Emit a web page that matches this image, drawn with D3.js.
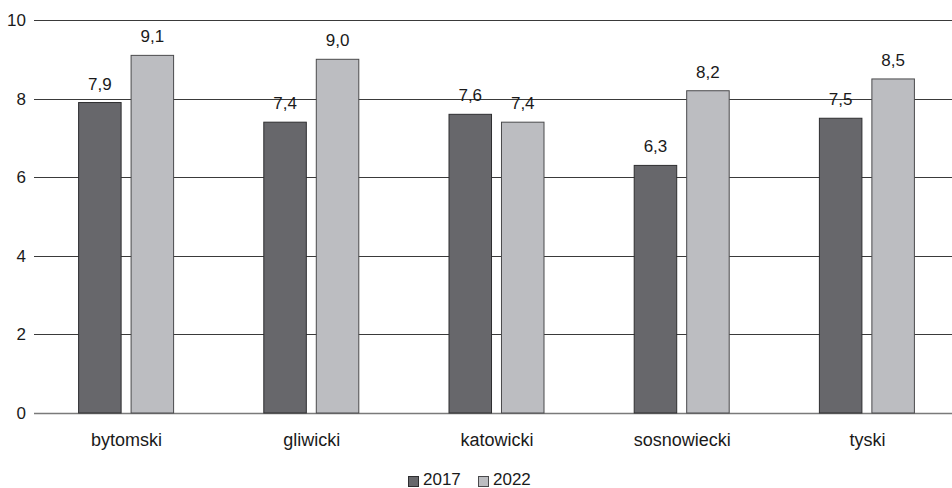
<!DOCTYPE html>
<html>
<head>
<meta charset="utf-8">
<script src="https://cdn.jsdelivr.net/npm/d3@7"></script>
<style>
  html, body { margin: 0; padding: 0; background: #fff; }
  svg { display: block; font-family: "Liberation Sans", Arial, sans-serif; }
</style>
</head>
<body>
<svg id="chart" width="952" height="488"></svg>
<script>
// Powiaty and their values for two years
const categories = ["bytomski", "gliwicki", "katowicki", "sosnowiecki", "tyski"];
const years = ["2017", "2022"];
const values2017 = [7.9, 7.4, 7.6, 6.3, 7.5];
const values2022 = [9.1, 9.0, 7.4, 8.2, 8.5];
const yTicks = [0, 2, 4, 6, 8, 10];

const seriesValues = [values2017, values2022];
const fills = ["#67676b", "#bcbdc1"];
const strokes = ["#2e2e30", "#4a4a4c"];

const svg = d3.select("#chart");
const W = 952, H = 488;
const margin = { left: 34, right: -8, top: 20, bottom: 75 };

const x = d3.scaleBand()
  .domain(categories)
  .range([margin.left, W - margin.right])
  .paddingInner(0)
  .paddingOuter(0);

const y = d3.scaleLinear()
  .domain([0, 10])
  .range([H - margin.bottom, margin.top]);

const sub = d3.scaleBand()
  .domain(years)
  .range([-48, 47])
  .paddingInner(0.19)
  .paddingOuter(0);

// Gridlines and value axis
const yAxis = d3.axisLeft(y)
  .tickValues(yTicks)
  .tickSize(0)
  .tickPadding(8)
  .tickFormat(d3.format("d"));

const gy = svg.append("g")
  .attr("transform", `translate(${margin.left},0)`)
  .call(yAxis);
gy.select(".domain").remove();
gy.selectAll("text")
  .attr("font-size", 17)
  .attr("fill", "#1a1a1a")
  .attr("font-family", "Liberation Sans, Arial, sans-serif");

svg.append("g")
  .selectAll("line")
  .data(yTicks)
  .join("line")
  .attr("x1", margin.left)
  .attr("x2", W)
  .attr("y1", d => Math.round(y(d)) + 0.5)
  .attr("y2", d => Math.round(y(d)) + 0.5)
  .attr("stroke", d => d === 0 ? "#7a7a7a" : "#3a3a3a")
  .attr("stroke-width", d => d === 0 ? 1.5 : 1);

// Bars
const groups = svg.append("g")
  .selectAll("g")
  .data(categories)
  .join("g")
  .attr("transform", d => `translate(${x(d) + x.bandwidth() / 2},0)`);

years.forEach((yr, si) => {
  groups.append("rect")
    .attr("x", sub(yr))
    .attr("width", sub.bandwidth())
    .attr("y", (d, i) => y(seriesValues[si][i]))
    .attr("height", (d, i) => y(0) - y(seriesValues[si][i]))
    .attr("fill", fills[si])
    .attr("stroke", strokes[si])
    .attr("stroke-width", 1);

  groups.append("text")
    .attr("x", sub(yr) + sub.bandwidth() / 2)
    .attr("y", (d, i) => y(seriesValues[si][i]) - 13)
    .attr("text-anchor", "middle")
    .attr("font-size", 17)
    .attr("fill", "#1a1a1a")
    .text((d, i) => d3.format(".1f")(seriesValues[si][i]).replace(".", ","));
});

// Category axis labels
const xAxis = d3.axisBottom(x).tickSize(0).tickPadding(20);
const gx = svg.append("g")
  .attr("transform", `translate(0,${y(0)})`)
  .call(xAxis);
gx.select(".domain").remove();
gx.selectAll("text")
  .attr("font-size", 18)
  .attr("fill", "#1a1a1a")
  .attr("font-family", "Liberation Sans, Arial, sans-serif");

// Legend
const legend = svg.append("g").attr("transform", "translate(408,475)");
const legendX = [0, 70];
years.forEach((yr, si) => {
  const g = legend.append("g").attr("transform", `translate(${legendX[si]},0)`);
  g.append("rect")
    .attr("x", 0.5).attr("y", 1.5)
    .attr("width", 10).attr("height", 10)
    .attr("fill", fills[si])
    .attr("stroke", strokes[si]);
  g.append("text")
    .attr("x", 15)
    .attr("y", 10)
    .attr("font-size", 17)
    .attr("fill", "#1a1a1a")
    .text(yr);
});
</script>
</body>
</html>
